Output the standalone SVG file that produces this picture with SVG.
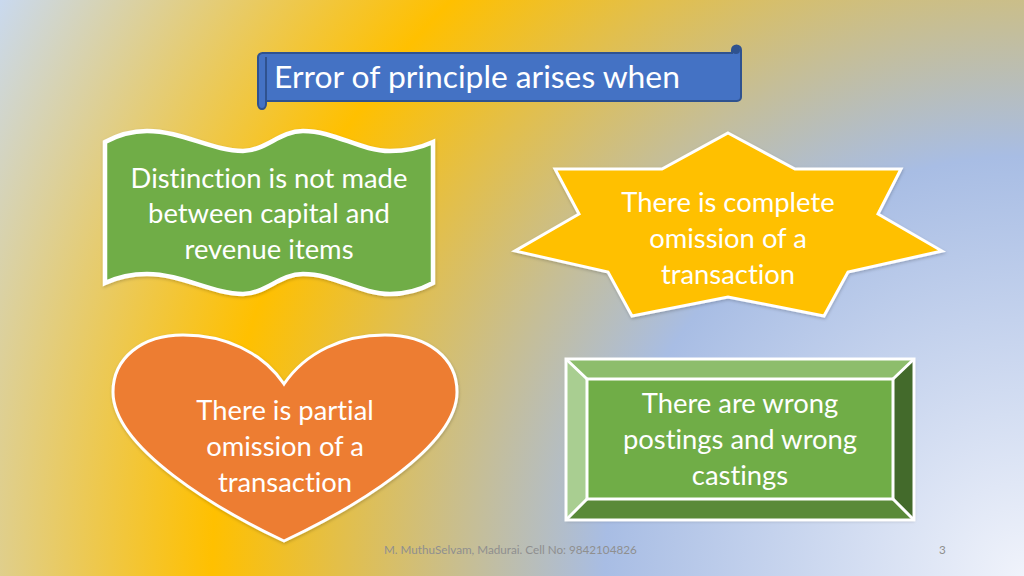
<svg xmlns="http://www.w3.org/2000/svg" width="1024" height="576" viewBox="0 0 1024 576">
<defs>
<radialGradient id="bg" gradientUnits="userSpaceOnUse" cx="1024" cy="576" r="1175">
<stop offset="0" stop-color="#f0f3fb"/>
<stop offset="0.357" stop-color="#a8bde4"/>
<stop offset="0.691" stop-color="#ffc000"/>
<stop offset="1" stop-color="#c9d9ef"/>
</radialGradient>
<filter id="sh" x="-5%" y="-5%" width="110%" height="110%"><feDropShadow dx="0.5" dy="1.5" stdDeviation="1.5" flood-color="#000" flood-opacity="0.2"/></filter>
</defs>
<style>
text{font-family:"Lato","Liberation Sans",sans-serif;font-variant-ligatures:none}
.t{fill:#fff;text-anchor:middle;font-size:27.4px}
.o{stroke:#fff;stroke-width:3;stroke-linejoin:miter}
.f{fill:#8f8f8f;font-size:11.7px}
</style>
<rect width="1024" height="576" fill="url(#bg)"/>
<g id="title">
<path d="M266 53H732V50A4.500 4.500 0 0 1 741 50V97A4 4 0 0 1 737 101H266V104A4 5 0 0 1 258 104V58A4.500 4.500 0 0 1 263 53Z" fill="#4472c4" stroke="#2f528f" stroke-width="2"/>
<path d="M266 57V104" fill="none" stroke="#2f528f" stroke-width="2"/>
<circle cx="736" cy="50" r="4" fill="#2f528f"/>
<text x="477" y="88" fill="#fff" font-size="31.8" text-anchor="middle">Error of principle arises when</text>
</g>
<g id="wave">
<path class="o" style="stroke-width:4.500" filter="url(#sh)" fill="#70ad47" d="M105 142C118 135 132 131 147 131C182 131 212 151 243 151C265 151 280 131 303 131C335 131 360 151 390 151C405 151 420 148 433 142V283C420 290 405 294 390 294C360 294 335 274 303 274C280 274 265 294 243 294C212 294 182 274 147 274C132 274 118 277 105 283Z"/>
<text class="t" x="269" y="188">Distinction is not made</text>
<text class="t" x="269" y="223">between capital and</text>
<text class="t" x="269" y="259">revenue items</text>
</g>
<g id="star">
<path class="o" filter="url(#sh)" fill="#ffc000" d="M728 133L795 169H901L878 214L942 251L848 272L824 316L728 297L632 316L608 272L515 251L579 214L555 169H662Z"/>
<text class="t" x="728" y="212">There is complete</text>
<text class="t" x="728" y="248">omission of a</text>
<text class="t" x="728" y="284">transaction</text>
</g>
<g id="heart">
<path class="o" filter="url(#sh)" fill="#ed7d31" d="M284 384C262 352 225 335 183 335C142 335 113 358 113 392C113 448 218 510 284 541C350 510 457 448 457 392C457 358 428 335 385 335C343 335 306 352 284 384Z"/>
<text class="t" x="285" y="420">There is partial</text>
<text class="t" x="285" y="456">omission of a</text>
<text class="t" x="285" y="492">transaction</text>
</g>
<g id="bevel">
<rect x="566" y="359" width="348" height="161" fill="#70ad47" filter="url(#sh)"/>
<path fill="#8dbd6c" d="M566 359H914L893 379H587Z"/>
<path fill="#a9ce91" d="M566 359L587 379V499L566 520Z"/>
<path fill="#436a2b" d="M914 359L893 379V499L914 520Z"/>
<path fill="#5a8a39" d="M566 520L587 499H893L914 520Z"/>
<g fill="none" stroke="#fff" stroke-width="3">
<rect x="566" y="359" width="348" height="161"/>
<rect x="587" y="379" width="306" height="120"/>
<path d="M566 359L587 379M914 359L893 379M566 520L587 499M914 520L893 499"/>
</g>
<text class="t" x="740" y="413">There are wrong</text>
<text class="t" x="740" y="449">postings and wrong</text>
<text class="t" x="740" y="485">castings</text>
</g>
<g id="connectors"/>
<text class="f" x="384" y="554">M. MuthuSelvam, Madurai. Cell No: 9842104826</text>
<text class="f" x="939" y="554">3</text>
</svg>
